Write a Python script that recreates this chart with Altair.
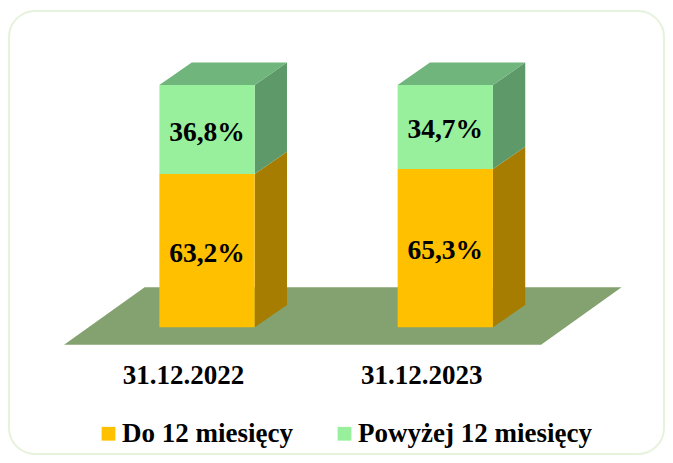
import altair as alt
import pandas as pd

categories = ["31.12.2022", "31.12.2023"]
series = ["Do 12 miesięcy", "Powyżej 12 miesięcy"]
do_12 = [63.2, 65.3]
pow_12 = [36.8, 34.7]

front_colors = ["#FFC000", "#98F09C"]
side_colors = ["#A67D00", "#5E9A69"]
top_color = "#70B57C"
floor_color = "#84A26F"
FONT = "Liberation Serif"

HALF = 0.2      # half bar width, in category slots
DX, DY = 0.1356, 9.2   # bar depth (slots, percent)
FLOOR_X = (-0.6, 1.402)
FLOOR_Y = (-7.18, 16.5)
FLOOR_DX = 0.338

front, side, top = [], [], []
for i, cat in enumerate(categories):
    low = 0.0
    for s, vals, fc, sc in zip(series, (do_12, pow_12), front_colors, side_colors):
        hi = low + vals[i]
        front.append(dict(s=s, x=i - HALF, x2=i + HALF, y=low, y2=hi, cx=i, cy=(low + hi) / 2,
                          label=f"{vals[i]:.1f}%".replace(".", ",")))
        for t in (0, 1):
            side.append(dict(g=f"{i}{s}", c=sc, x=i + HALF + t * DX, y=low + t * DY, y2=hi + t * DY))
        low = hi
    for t in (0, 1):
        top.append(dict(g=i, y=low + t * DY, x=i - HALF + t * DX, x2=i + HALF + t * DX))
floor = [dict(y=FLOOR_Y[t], x=FLOOR_X[0] + t * FLOOR_DX, x2=FLOOR_X[1] + t * FLOOR_DX) for t in (0, 1)]

xs = alt.Scale(domain=[-0.8312, 1.918], nice=False, zero=False)
ys = alt.Scale(domain=[-52.3, 130.5], nice=False, zero=False)
xaxis = alt.Axis(
    values=[0, 1], title=None, domain=False, ticks=False, grid=False,
    labelExpr=f"datum.value < 0.5 ? '{categories[0]}' : '{categories[1]}'",
    labelFont=FONT, labelFontSize=27, labelFontWeight="bold", labelColor="#000000",
    labelOffset=-24, offset=-94, labelPadding=2, labelOverlap=False, labelFlush=False, labelBound=False)
X = alt.X("x:Q", scale=xs, axis=xaxis)
Y = alt.Y("y:Q", scale=ys, axis=None, stack=None)

floor_l = alt.Chart(pd.DataFrame(floor)).mark_area(orient="horizontal", color=floor_color).encode(
    x=X, x2="x2:Q", y=Y)

side_l = alt.Chart(pd.DataFrame(side)).mark_area(orient="vertical").encode(
    x=X, y=Y, y2="y2:Q", detail="g:N", color=alt.Color("c:N", scale=None))

top_l = alt.Chart(pd.DataFrame(top)).mark_area(orient="horizontal", color=top_color).encode(
    x=X, x2="x2:Q", y=Y, detail="g:N")

fdf = pd.DataFrame(front)
front_l = alt.Chart(fdf).mark_rect().encode(
    x=X, x2="x2:Q", y=Y, y2="y2:Q",
    color=alt.Color("s:N", sort=series, scale=alt.Scale(domain=series, range=front_colors),
                    legend=alt.Legend(orient="none", direction="horizontal", legendX=86, legendY=409,
                                      title=None, symbolType="square", symbolSize=190, symbolStrokeWidth=0,
                                      labelFont=FONT, labelFontSize=27, labelFontWeight="bold",
                                      labelColor="#000000", labelOffset=0, columnPadding=38,
                                      labelLimit=400)))

text_l = alt.Chart(fdf).mark_text(font=FONT, fontSize=27.5, fontWeight="bold", color="#000000", dy=3).encode(
    x=alt.X("cx:Q", scale=xs, axis=xaxis), y=alt.Y("cy:Q", scale=ys, axis=None), text="label:N")

chart = alt.layer(floor_l, side_l, top_l, front_l, text_l).resolve_scale(color="independent").properties(
    width=655, height=443,
    autosize=alt.AutoSizeParams(type="none"),
    padding={"left": 1, "top": 3, "right": 1, "bottom": 1},
    background="#ffffff",
).configure_view(stroke="#E6F2DC", strokeWidth=2, cornerRadius=26)

chart.save("out.html", embed_options={"renderer": "svg", "actions": False})
